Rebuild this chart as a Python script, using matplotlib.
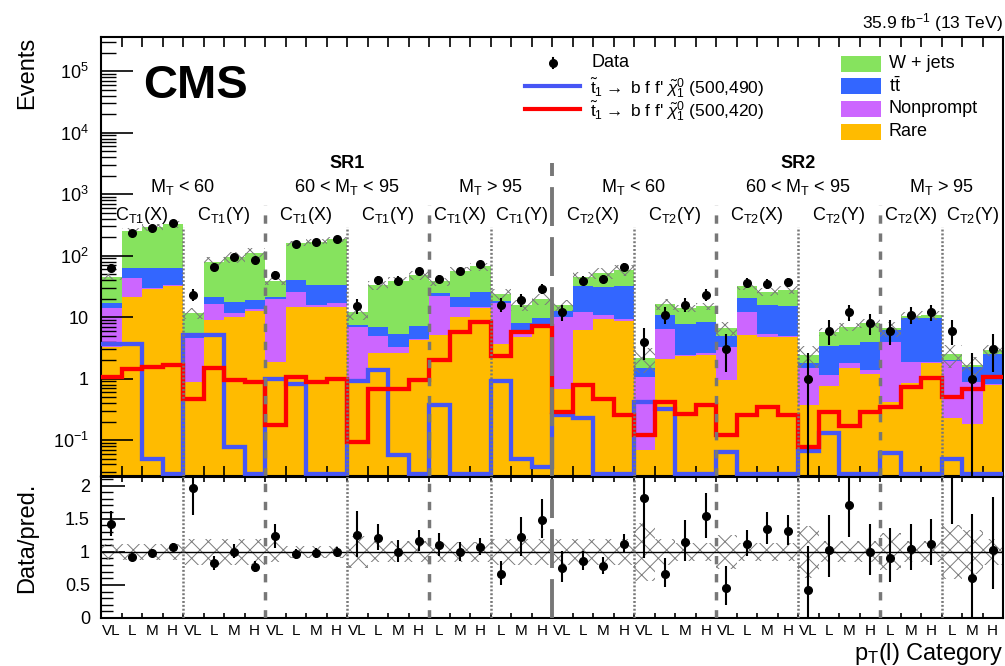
import numpy as np
import matplotlib
matplotlib.use('Agg')
import matplotlib.pyplot as plt
from matplotlib.ticker import FixedLocator, FixedFormatter, MultipleLocator, LogLocator, NullFormatter
from matplotlib.patches import Rectangle

plt.rcParams['font.family'] = ['Liberation Sans', 'DejaVu Sans']
plt.rcParams['mathtext.fontset'] = 'custom'
plt.rcParams['mathtext.rm'] = 'Liberation Sans'
plt.rcParams['mathtext.it'] = 'Liberation Sans:italic'
plt.rcParams['mathtext.bf'] = 'Liberation Sans:bold'
plt.rcParams['hatch.linewidth'] = 0.7
plt.rcParams['lines.scale_dashes'] = False

# p_T(l) categories, SR1 then SR2 (44 bins)
ptCats = (['VL', 'L', 'M', 'H'] * 4 + ['L', 'M', 'H'] * 2) * 2

# background yields per bin
rare = [3.3, 20.9, 28.5, 31.8, 0.89, 8.9, 10.1, 12.7, 1.88, 14.7, 14.7, 14.7,
        0.95, 2.57, 2.6, 4.2, 5.1, 9.9, 13.8, 3.7, 4.8, 6.7,
        0.67, 6.15, 9.2, 8.8, 0.07, 2.05, 2.3, 2.4, 0.95, 5.1, 4.7, 4.7,
        0.37, 0.76, 1.47, 1.18, 0.41, 0.84, 1.77, 0.23, 0.18, 0.78]
nonprompt = [10.9, 21.7, 1.5, 1.2, 3.61, 7.4, 1.4, 0.8, 17.5, 11.1, 0.8, 2.0,
             6.0, 2.33, 0.7, 0.2, 16.8, 4.8, 0.9, 13.4, 1.35, 0.3,
             9.43, 6.05, 1.6, 0.4, 1.0, 4.25, 0.1, 0.17, 2.35, 7.1, 0.7, 0.2,
             1.13, 0.38, 0.33, 0.19, 3.59, 1.04, 0.11, 1.67, 0.71, 0.03]
ttbar = [2.5, 21.4, 32.0, 31.0, 0.3, 4.6, 6.2, 5.4, 2.0, 14.2, 17.5, 16.3,
         0.45, 2.1, 2.1, 2.8, 2.4, 6.7, 11.1, 1.3, 1.75, 2.5,
         2.6, 19.7, 20.2, 22.7, 0.4, 4.5, 5.3, 5.83, 1.7, 7.9, 10.3, 10.2,
         0.27, 2.26, 1.7, 2.63, 2.15, 7.62, 7.62, 0.1, 0.66, 1.69]
wjets = [28.3, 186, 228, 257, 6.9, 59, 77, 92, 17.6, 118, 135, 150,
         4.6, 26, 33.6, 40.8, 13.7, 34.6, 41.2, 5.6, 7.7, 10,
         3.1, 13.1, 22, 27.1, 0.73, 5.7, 6.2, 6.6, 1.7, 11.9, 10.3, 12.9,
         0.63, 2.4, 3.5, 4.0, 0.45, 1.0, 1.2, 0.5, 0.12, 0.4]
# relative uncertainty of the prediction
predUnc = [0.12] * 4 + [0.2] * 4 + [0.16] + [0.09] * 3 + [0.24] + [0.16] * 3 + [0.15] * 3 + [0.2] * 3 \
          + [0.2] * 4 + [0.44] + [0.2] + [0.14] * 2 + [0.26] + [0.14] * 3 + [0.39] + [0.16] * 3 \
          + [0.28] + [0.16] * 2 + [0.41] + [0.33] + [0.2]
data = [64, 230, 283, 345, 23, 66, 95, 86, 48, 152, 165, 183,
        15, 40, 39, 56, 42, 56, 72, 16, 19, 29,
        12, 39, 42, 66, 4, 11, 16, 23, 3, 36, 35, 37,
        1, 6, 12, 8, 6, 11, 12, 6, 1, 3]
# signal points
sig490 = [3.7, 3.6, 0.0485, 0.028, 5.1, 5.1, 0.078, 0.028, 0.98, 0.81, 0.028, 0.028,
          0.91, 1.37, 0.057, 0.028, 0.37, 0.028, 0.028, 0.91, 0.0485, 0.037,
          0.255, 0.225, 0.028, 0.028, 0.42, 0.316, 0.028, 0.028, 0.065, 0.028, 0.028, 0.028,
          0.067, 0.13, 0.028, 0.028, 0.062, 0.028, 0.028, 0.05, 0.028, 0.028]
sig420 = [1.07, 1.41, 1.56, 1.66, 0.46, 1.46, 0.945, 0.89, 0.175, 1.07, 0.89, 1.0,
          0.094, 0.67, 0.67, 0.945, 2.0, 5.8, 8.4, 2.3, 5.8, 7.2,
          0.29, 0.78, 0.46, 0.255, 0.12, 0.42, 0.27, 0.37, 0.12, 0.255, 0.34, 0.255,
          0.078, 0.29, 0.17, 0.29, 0.35, 0.74, 1.04, 0.506, 0.67, 1.07]

colWjets = '#86e35e'
colTT = '#3366ff'
colNP = '#cc66ff'
colRare = '#ffbb00'
colSig490 = '#4756f5'
colSig420 = '#ff0000'
sepCol = '#777777'

nBins = len(data)
edges = np.arange(nBins + 1)
centers = edges[:-1] + 0.5

c0 = np.array(rare)
c1 = c0 + np.array(nonprompt)
c2 = c1 + np.array(ttbar)
total = c2 + np.array(wjets)
unc = np.array(predUnc)
dataArr = np.array(data, dtype=float)
errLo = np.sqrt(dataArr)
errHi = np.sqrt(dataArr + 0.25) + 0.5

W, H = 1005, 666
fig = plt.figure(figsize=(W / 100, H / 100), dpi=100)
ax = fig.add_axes([101 / W, 1 - 476 / H, 902 / W, 439 / H])
rax = fig.add_axes([101 / W, 1 - 618 / H, 902 / W, 141 / H])

# stacked backgrounds
ax.stairs(c0, edges, baseline=1e-4, fill=True, color=colRare, zorder=1)
ax.stairs(c1, edges, baseline=c0, fill=True, color=colNP, zorder=1)
ax.stairs(c2, edges, baseline=c1, fill=True, color=colTT, zorder=1)
ax.stairs(total, edges, baseline=c2, fill=True, color=colWjets, zorder=1)
ax.stairs(total * (1 + unc), edges, baseline=total * (1 - unc), fill=True, hatch='xx',
          facecolor='none', edgecolor='#7a7a7a', linewidth=0, zorder=2)

# signals
ax.stairs(sig490, edges, baseline=None, color=colSig490, lw=3.1, zorder=3)
ax.stairs(sig420, edges, baseline=None, color=colSig420, lw=3.1, zorder=3)

# data
ax.errorbar(centers, data, yerr=[errLo, errHi], fmt='o', color='k', ms=5.5,
            elinewidth=1.5, capsize=0, zorder=6)

ymin, ymax = 0.026, 3.6e5
ax.set_yscale('log')
ax.set_ylim(ymin, ymax)
ax.set_xlim(0, nBins)

# region separators
dotted = [4, 12, 19, 26, 34, 41]
dashed = [8, 16, 30, 38]
for x in dotted:
    ax.plot([x, x], [ymin, 290], color=sepCol, lw=1.8, ls=(0, (1.4, 1.4)), zorder=4)
    rax.plot([x, x], [0, 2.2], color=sepCol, lw=1.8, ls=(0, (1.4, 1.4)), zorder=4)
for x in dashed:
    ax.plot([x, x], [ymin, 662], color=sepCol, lw=2.5, ls=(0, (6, 7)), zorder=4)
    rax.plot([x, x], [0, 2.2], color=sepCol, lw=2.5, ls=(0, (6, 7)), zorder=4)
ax.plot([22, 22], [ymin, 3190], color=sepCol, lw=2.8, ls=(0, (28, 8)), zorder=4)
rax.plot([22, 22], [0, 2.2], color=sepCol, lw=2.8, ls=(0, (28, 8)), zorder=4)

# region labels
trans = ax.get_xaxis_transform()
for txt, x in [('SR1', 12), ('SR2', 34)]:
    ax.text(x, 0.701, txt, transform=trans, ha='center', va='baseline', fontsize=13, fontweight='bold')
mtTxt = [r'M$_\mathrm{T}$ < 60', r'60 < M$_\mathrm{T}$ < 95', r'M$_\mathrm{T}$ > 95']
for txt, x in zip(mtTxt * 2, [4, 12, 19, 26, 34, 41]):
    ax.text(x, 0.646, txt, transform=trans, ha='center', va='baseline', fontsize=13)
ctTxt = []
for sr in ['1', '2']:
    ctTxt += [r'C$_\mathrm{T%s}$(X)' % sr, r'C$_\mathrm{T%s}$(Y)' % sr] * 3
ctPos = [2, 6, 10, 14, 17.5, 20.5, 24, 28, 32, 36, 39.5, 42.5]
for txt, x in zip(ctTxt, ctPos):
    ax.text(x, 0.583, txt, transform=trans, ha='center', va='baseline', fontsize=13)

ax.text(0.0466, 0.861, 'CMS', transform=ax.transAxes, ha='left', va='baseline',
        fontsize=34, fontweight='bold')
fig.text(1003 / W, 1 - 28 / H, r'35.9 fb$^{-1}$ (13 TeV)', ha='right', va='baseline', fontsize=12.5)

# legend, signal / data part
ax.plot([0.501, 0.501], [0.929, 0.952], color='k', lw=1.5, transform=ax.transAxes, zorder=7)
ax.plot([0.501], [0.9408], 'o', color='k', ms=5.5, transform=ax.transAxes, zorder=7)
ax.text(0.5443, 0.9408, 'Data', transform=ax.transAxes, ha='left', va='center', fontsize=13)
ax.plot([0.470, 0.531], [0.888, 0.888], color=colSig490, lw=3.0, transform=ax.transAxes, zorder=7)
ax.plot([0.470, 0.531], [0.836, 0.836], color=colSig420, lw=3.0, transform=ax.transAxes, zorder=7)
ax.text(0.542, 0.884, r"$\tilde{\mathrm{t}}_{1}\rightarrow$ b f f' $\tilde{\chi}^{0}_{1}$ (500,490)",
        transform=ax.transAxes, ha='left', va='center', fontsize=12.5)
ax.text(0.542, 0.832, r"$\tilde{\mathrm{t}}_{1}\rightarrow$ b f f' $\tilde{\chi}^{0}_{1}$ (500,420)",
        transform=ax.transAxes, ha='left', va='center', fontsize=12.5)

# legend, backgrounds
bkgLeg = [('W + jets', colWjets), (r't$\bar{\mathrm{t}}$', colTT), ('Nonprompt', colNP), ('Rare', colRare)]
for i, (name, col) in enumerate(bkgLeg):
    yc = [0.9385, 0.8888, 0.836, 0.7845][i]
    ax.add_patch(Rectangle((0.8204, yc - 0.018), 0.0443, 0.036, transform=ax.transAxes,
                           facecolor=col, edgecolor='none', zorder=7))
    ax.text(0.8736, yc, name, transform=ax.transAxes, ha='left', va='center', fontsize=13)

# main axes ticks
ax.yaxis.set_major_locator(FixedLocator([1e-1, 1, 10, 1e2, 1e3, 1e4, 1e5]))
ax.yaxis.set_major_formatter(FixedFormatter([r'$10^{-1}$', '1', '10', r'$10^{2}$', r'$10^{3}$',
                                             r'$10^{4}$', r'$10^{5}$']))
ax.yaxis.set_minor_locator(LogLocator(base=10, subs=np.arange(2, 10), numticks=30))
ax.yaxis.set_minor_formatter(NullFormatter())
ax.xaxis.set_major_locator(MultipleLocator(1))
ax.tick_params(axis='y', which='major', direction='in', length=23, width=1.2, labelsize=13, pad=9)
ax.tick_params(axis='y', which='minor', direction='in', length=11, width=1.0)
ax.tick_params(axis='x', which='major', direction='in', length=7, width=1.2, top=True,
               labelbottom=False)
fig.text(33 / W, 1 - 37 / H, 'Events', rotation=90, rotation_mode='anchor',
         ha='right', va='baseline', fontsize=17)

# ratio panel
ratio = dataArr / total
rax.stairs(1 + unc, edges, baseline=1 - unc, fill=True, hatch='xx',
           facecolor='none', edgecolor='#7a7a7a', linewidth=0, zorder=2)
rax.axhline(1, color='k', lw=1.0, zorder=3)
rax.errorbar(centers, ratio, yerr=[errLo / total, errHi / total], fmt='o', color='k', ms=5.5,
             elinewidth=1.5, capsize=0, zorder=6)
rax.set_xlim(0, nBins)
rax.set_ylim(0, 2.13)
rax.yaxis.set_major_locator(FixedLocator([0, 0.5, 1, 1.5, 2]))
rax.yaxis.set_major_formatter(FixedFormatter(['0', '0.5', '1', '1.5', '2']))
rax.yaxis.set_minor_locator(MultipleLocator(0.1))
rax.set_xticks(edges)
rax.set_xticklabels([])
rax.set_xticks(centers, minor=True)
rax.set_xticklabels(ptCats, minor=True, fontsize=11)
rax.tick_params(axis='x', which='major', direction='in', length=3.5, width=1.2, top=True)
rax.tick_params(axis='x', which='minor', length=0, pad=4)
rax.tick_params(axis='y', which='major', direction='in', length=17, width=1.2, labelsize=13, pad=8)
rax.tick_params(axis='y', which='minor', direction='in', length=8.5, width=1.0)
fig.text(33 / W, 1 - 538 / H, 'Data/pred.', rotation=90, rotation_mode='anchor',
         ha='center', va='baseline', fontsize=17)
fig.text(1003 / W, 1 - 660 / H, r'p$_\mathrm{T}$(l) Category', ha='right', va='baseline', fontsize=17)

for a in (ax, rax):
    for s in a.spines.values():
        s.set_linewidth(1.5)

fig.savefig('out.png', dpi=100)
